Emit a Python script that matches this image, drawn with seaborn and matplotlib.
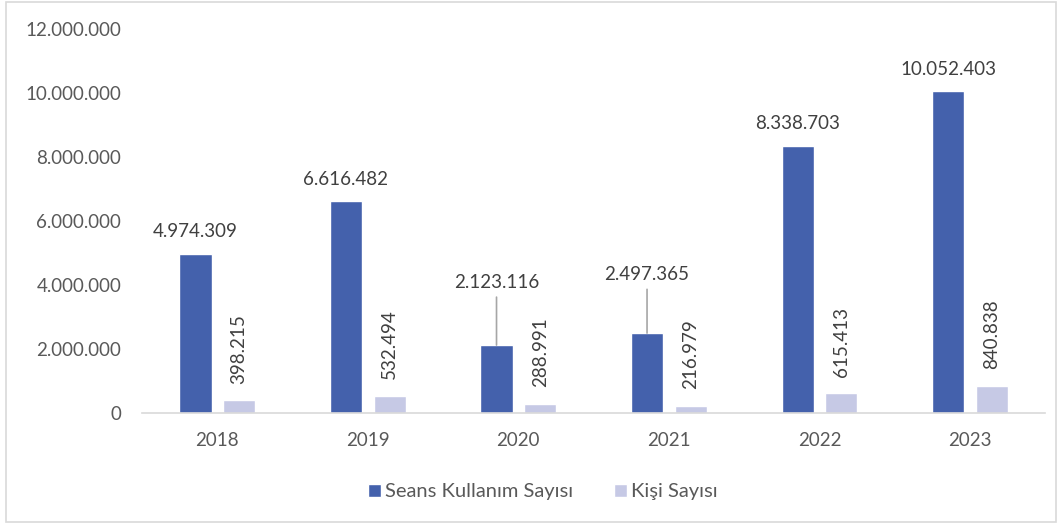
import pandas as pd
import matplotlib
matplotlib.use("Agg")
import matplotlib.pyplot as plt
from matplotlib.patches import Rectangle
from matplotlib.ticker import FuncFormatter
import seaborn as sns

years = ["2018", "2019", "2020", "2021", "2022", "2023"]
seans = [4974309, 6616482, 2123116, 2497365, 8338703, 10052403]
kisi = [398215, 532494, 288991, 216979, 615413, 840838]
series_names = ["Seans Kullanım Sayısı", "Kişi Sayısı"]

dark = "#4461AC"
light = "#C6C9E5"

sns.set_theme(style="white")
plt.rcParams["font.family"] = ["Lato", "DejaVu Sans"]


def dotfmt(v):
    return f"{int(round(v)):,}".replace(",", ".")


df = pd.DataFrame({
    "year": years * 2,
    "value": seans + kisi,
    "series": [series_names[0]] * len(years) + [series_names[1]] * len(years),
})

fig = plt.figure(figsize=(10.6, 5.25), dpi=100)
ax = fig.add_axes([0.134, 0.2133, 0.852, 0.7315])

sns.barplot(data=df, x="year", y="value", hue="series", hue_order=series_names,
            palette=[dark, light], width=0.58, gap=0.265, saturation=1,
            errorbar=None, ax=ax)

ax.set_ylim(0, 12000000)
ax.set_yticks(range(0, 12000001, 2000000))
ax.yaxis.set_major_formatter(FuncFormatter(lambda v, p: dotfmt(v)))
ax.set_xlabel("")
ax.set_ylabel("")
for s in ["left", "right", "top"]:
    ax.spines[s].set_visible(False)
ax.spines["bottom"].set_color("#D9D9D9")
ax.spines["bottom"].set_linewidth(1.2)
ax.tick_params(axis="both", length=0, labelsize=13.5, colors="#595959")
ax.tick_params(axis="y", pad=15)
ax.tick_params(axis="x", pad=14)

# label offsets (points) for the dark bars; 2020 and 2021 are lifted with leader lines
lift = {"2020": 45, "2021": 42}

for bar, yr, v in zip(ax.containers[0], years, seans):
    cx = bar.get_x() + bar.get_width() / 2
    top = bar.get_height()
    if yr in lift:
        ax.annotate(dotfmt(v), (cx, top), xytext=(0, lift[yr]), textcoords="offset points",
                    ha="center", va="center", fontsize=13.5, color="#404040",
                    arrowprops=dict(arrowstyle="-", color="#A6A6A6", lw=1.2,
                                    shrinkA=2, shrinkB=0))
    else:
        ax.annotate(dotfmt(v), (cx, top), xytext=(0, 16), textcoords="offset points",
                    ha="center", va="center", fontsize=13.5, color="#404040")

for bar, v in zip(ax.containers[1], kisi):
    cx = bar.get_x() + bar.get_width() / 2
    ax.annotate(dotfmt(v), (cx, bar.get_height()), xytext=(0, 12), textcoords="offset points",
                ha="center", va="bottom", rotation=90, fontsize=13.5, color="#404040")

handles, labels = ax.get_legend_handles_labels()
ax.get_legend().remove()
fig.legend(handles, labels, loc="center", bbox_to_anchor=(0.512, 0.063), ncol=2,
           frameon=False, fontsize=14.5, handlelength=0.65, handleheight=0.65,
           handletextpad=0.2, columnspacing=2.0, labelcolor="#595959")

fig.patches.append(Rectangle((0.006, 0.006), 0.99, 0.99, transform=fig.transFigure,
                             fill=False, edgecolor="#D9D9D9", lw=1.2))

fig.savefig("out.png", dpi=100)
